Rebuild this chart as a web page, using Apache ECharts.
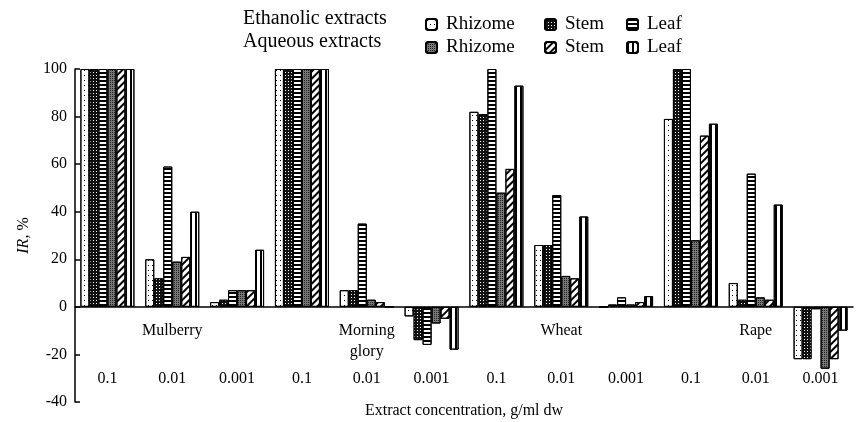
<!DOCTYPE html>
<html>
<head>
<meta charset="utf-8">
<script src="https://cdn.jsdelivr.net/npm/echarts@6/dist/echarts.min.js"></script>
<style>
  html, body { margin: 0; padding: 0; background: #fff; }
  #chart { width: 856px; height: 422px; }
</style>
</head>
<body>
<div id="chart"></div>
<script>
// ---- data ----
const concentrations = ['0.1', '0.01', '0.001', '0.1', '0.01', '0.001', '0.1', '0.01', '0.001', '0.1', '0.01', '0.001'];
const species = ['Mulberry', 'Morning\nglory', 'Wheat', 'Rape'];
const yTicks = [-40, -20, 0, 20, 40, 60, 80, 100];

const ethRhizome = [100, 20, 2, 100, 7, -4, 82, 26, 0, 79, 10, -22];
const ethStem    = [100, 12, 3, 100, 7, -14, 81, 26, 1, 100, 3, -22];
const ethLeaf    = [100, 59, 7, 100, 35, -16, 100, 47, 4, 100, 56, -1];
const aqRhizome  = [100, 19, 7, 100, 3, -7, 48, 13, 1, 28, 4, -26];
const aqStem     = [100, 21, 7, 100, 2, -5, 58, 12, 2, 72, 3, -22];
const aqLeaf     = [100, 40, 24, 100, 0, -18, 93, 38, 4.5, 77, 43, -10];

const seriesNames = ['Ethanolic Rhizome', 'Ethanolic Stem', 'Ethanolic Leaf', 'Aqueous Rhizome', 'Aqueous Stem', 'Aqueous Leaf'];
const seriesData = [ethRhizome, ethStem, ethLeaf, aqRhizome, aqStem, aqLeaf];

// ---- styles ----
const FONT = 'Liberation Serif';
const styles = [
  { color: '#fff', decal: { symbol: 'rect', color: '#000', dashArrayX: [1, 3], dashArrayY: [1, 4] } },
  { color: '#111', decal: { symbol: 'rect', color: '#fff', dashArrayX: [1, 2], dashArrayY: [1, 2] } },
  { color: '#fff', decal: { symbol: 'rect', color: '#000', dashArrayX: [1, 0], dashArrayY: [2, 2] } },
  { color: '#777', decal: { symbol: 'rect', color: '#222', dashArrayX: [1, 1], dashArrayY: [1, 1] } },
  { color: '#fff', decal: { symbol: 'rect', color: '#000', dashArrayX: [1, 0], dashArrayY: [2, 3], rotation: -Math.PI / 4 } },
  { color: '#fff', decal: { symbol: 'rect', color: '#000', dashArrayX: [2, 3], dashArrayY: [1, 0] } }
];

const chart = echarts.init(document.getElementById('chart'), null, { renderer: 'canvas' });

const series = seriesNames.map((name, i) => ({
  name: name,
  type: 'bar',
  xAxisIndex: 0,
  yAxisIndex: 0,
  data: seriesData[i],
  barWidth: 9,
  barGap: '0%',
  itemStyle: {
    color: styles[i].color,
    decal: styles[i].decal,
    borderColor: '#000',
    borderWidth: 1
  },
  emphasis: { disabled: true },
  animation: false
}));

const LEG_FS = 19;
const legendCommon = {
  orient: 'vertical',
  top: 10,
  itemWidth: 11,
  itemHeight: 11,
  itemGap: 4,
  selectedMode: false,
  formatter: n => n.split(' ')[1],
  textStyle: { fontFamily: FONT, fontSize: LEG_FS, color: '#000', padding: [0, 0, 0, 4] }
};
const titleStyle = { fontFamily: FONT, fontSize: 20, fontWeight: 'normal', color: '#000' };

const option = {
  backgroundColor: '#fff',
  animation: false,
  title: [
    { text: 'Ethanolic extracts', left: 243, top: 9, padding: 0, textStyle: titleStyle },
    { text: 'Aqueous extracts', left: 243, top: 32, padding: 0, textStyle: titleStyle }
  ],
  legend: [
    Object.assign({}, legendCommon, { left: 420, data: [seriesNames[0], seriesNames[3]] }),
    Object.assign({}, legendCommon, { left: 539, data: [seriesNames[1], seriesNames[4]] }),
    Object.assign({}, legendCommon, { left: 621, data: [seriesNames[2], seriesNames[5]] })
  ],
  grid: { left: 75, right: 3, top: 69, bottom: 20, containLabel: false, outerBoundsMode: 'none' },
  xAxis: [
    {
      type: 'category',
      data: concentrations,
      position: 'bottom',
      axisLine: { onZero: true, lineStyle: { color: '#000', width: 1.5 } },
      axisTick: { show: false },
      axisLabel: { show: false }
    },
    {
      type: 'category',
      data: species,
      position: 'bottom',
      offset: -90,
      axisLine: { show: false, onZero: false },
      axisTick: { show: false },
      axisLabel: { margin: 8, fontFamily: FONT, fontSize: 16, color: '#000', lineHeight: 21 }
    },
    {
      type: 'category',
      data: concentrations,
      position: 'bottom',
      offset: -39,
      axisLine: { show: false, onZero: false },
      axisTick: { show: false },
      axisLabel: { margin: 8, fontFamily: FONT, fontSize: 16, color: '#000', interval: 0 },
      name: 'Extract concentration, g/ml dw',
      nameLocation: 'middle',
      nameGap: 40,
      nameTextStyle: { fontFamily: FONT, fontSize: 16, color: '#000' }
    }
  ],
  yAxis: {
    type: 'value',
    min: yTicks[0],
    max: yTicks[yTicks.length - 1],
    interval: 20,
    splitLine: { show: false },
    axisLine: { show: true, onZero: false, lineStyle: { color: '#000', width: 1.5 } },
    axisTick: { show: true, inside: true, length: 5, lineStyle: { color: '#000', width: 1.5 } },
    axisLabel: { margin: 8, fontFamily: FONT, fontSize: 16, color: '#000' },
    name: '{i|IR}, %',
    nameLocation: 'middle',
    nameGap: 40,
    nameTextStyle: {
      fontFamily: FONT, fontSize: 16, color: '#000',
      rich: { i: { fontFamily: FONT, fontSize: 16, fontStyle: 'italic', color: '#000' } }
    }
  },
  series: series
};

chart.setOption(option);
</script>
</body>
</html>
